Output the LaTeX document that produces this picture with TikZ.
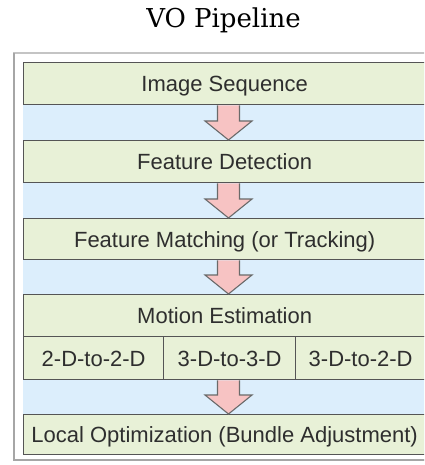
\documentclass[tikz,border=0pt]{standalone}
\usepackage{fontspec}
\setmainfont{Liberation Sans}
\newfontfamily\titlefont{DejaVu Serif}
\usetikzlibrary{calc}

\definecolor{stagefill}{HTML}{E8F1D7}
\definecolor{bandfill}{HTML}{DCEEFC}
\definecolor{stageline}{HTML}{555555}
\definecolor{arrowpink}{HTML}{F7C3C3}
\definecolor{arrowline}{HTML}{6A6A6A}
\definecolor{labeltext}{HTML}{2E2E2E}
\definecolor{framegray}{HTML}{C4C4C4}

\tikzset{
  stage/.style={draw=stageline, line width=1.3pt, fill=stagefill,
    inner sep=0pt, anchor=north west, minimum height=#1,
    text height=16pt, text depth=0pt, text=labeltext,
    font=\fontsize{22}{26}\selectfont},
  stage/.default=42pt,
}

% block arrow from the bottom of #1 to the top of #2, on the axis coordinate
\newcommand\pipearrow[2]{%
  \path let \p1=(#1.south), \p2=(#2.north), \p3=(axis) in
    [fill=arrowpink]
    (\x3-11pt,\y1) -- (\x3-11pt,\y2+19pt) -- (\x3-23.5pt,\y2+19pt) --
    (\x3,\y2) -- (\x3+23.5pt,\y2+19pt) -- (\x3+11pt,\y2+19pt) --
    (\x3+11pt,\y1) -- cycle;
  \path let \p1=(#1.south), \p2=(#2.north), \p3=(axis) in
    [draw=arrowline, line width=1.1pt, line join=miter]
    (\x3-11pt,\y1) -- (\x3-11pt,\y2+19pt) -- (\x3-23.5pt,\y2+19pt) --
    (\x3,\y2) -- (\x3+23.5pt,\y2+19pt) -- (\x3+11pt,\y2+19pt) --
    (\x3+11pt,\y1);
}

\begin{document}
\begin{tikzpicture}[x=1pt,y=-1pt]
\useasboundingbox (0,0) rectangle (424,465);
\clip (0,0) rectangle (424,465);

% title
\node[font=\titlefont\fontsize{26}{30}\selectfont, anchor=base] (title) at (223.5,28) {VO Pipeline};

% outer panel
\draw[framegray, line width=1.2pt, fill=white] (14,53) rectangle (436,460);
\draw[gray!70, line width=1.6pt] (14,53) -- (14,460) -- (436,460);

% blue bands behind the stages
\fill[bandfill] (23,62) rectangle (425,454);

\coordinate (axis) at (228.5,0);

\node[stage, minimum width=402pt] (img) at (23,62) {Image Sequence};
\node[stage, minimum width=402pt] (det) at (23,140) {Feature Detection};
\node[stage, minimum width=402pt, minimum height=41pt] (mat) at (23,218) {Feature Matching (or Tracking)};
\node[stage, minimum width=402pt] (mot) at (23,294) {Motion Estimation};
\node[stage, minimum width=140pt, minimum height=43pt] (m22) at (23,336) {2-D-to-2-D};
\node[stage, minimum width=132pt, minimum height=43pt] (m33) at (163,336) {3-D-to-3-D};
\node[stage, minimum width=130pt, minimum height=43pt] (m32) at (295,336) {3-D-to-2-D};
\node[stage, minimum width=402pt, minimum height=40pt] (opt) at (23,414) {Local Optimization (Bundle Adjustment)};

\pipearrow{img}{det}
\pipearrow{det}{mat}
\pipearrow{mat}{mot}
\pipearrow{m33}{opt}
\end{tikzpicture}
\end{document}
